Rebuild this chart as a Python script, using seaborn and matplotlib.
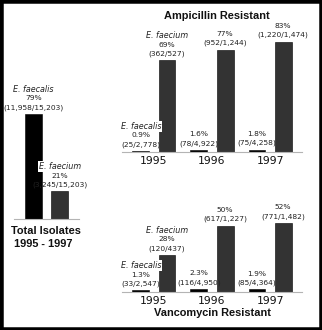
import matplotlib
matplotlib.use("Agg")
import matplotlib.pyplot as plt
import matplotlib.patches as mpatches
import pandas as pd
import seaborn as sns

# ---- data -------------------------------------------------------------
years = ["1995", "1996", "1997"]
species = ["E. faecalis", "E. faecium"]

amp_faecalis_pct = [0.9, 1.6, 1.8]
amp_faecalis_n = ["25/2,778", "78/4,922", "75/4,258"]
amp_faecium_pct = [69, 77, 83]
amp_faecium_n = ["362/527", "952/1,244", "1,220/1,474"]

van_faecalis_pct = [1.3, 2.3, 1.9]
van_faecalis_n = ["33/2,547", "116/4,950", "85/4,364"]
van_faecium_pct = [28, 50, 52]
van_faecium_n = ["120/437", "617/1,227", "771/1,482"]

total_pct = [79, 21]
total_n = ["11,958/15,203", "3,245/15,203"]

# ---- style ------------------------------------------------------------
sns.set_theme(style="white")
plt.rcParams["font.family"] = ["DejaVu Sans"]

W, H = 322, 330
fig = plt.figure(figsize=(W / 100, H / 100), dpi=100)
fig.patch.set_facecolor("white")

palette = {"E. faecalis": "#000000", "E. faecium": "#333333"}
LABEL_FS = 5.4
PX = 72 / 100  # points per pixel


def add_px_axes(left, top, right, bottom):
    return fig.add_axes([left / W, 1 - bottom / H, (right - left) / W, (bottom - top) / H])


def style_axes(ax, xlim):
    ax.set_xlim(*xlim)
    ax.set_ylim(0, 100)
    ax.set_facecolor("none")
    for s in ("left", "right", "top"):
        ax.spines[s].set_visible(False)
    ax.spines["bottom"].set_color("#b4b4b4")
    ax.spines["bottom"].set_linewidth(0.8)
    ax.set_yticks([])
    ax.set_xlabel("")
    ax.set_ylabel("")


def count_fmt(n):
    return f"({n})"


def label_bar(ax, bar, pct, count, name=None):
    cx = bar.get_x() + bar.get_width() / 2
    top = bar.get_height()
    lines = [(count_fmt(count), 6.5), (f"{pct:g}%", 15.5)]
    for txt, off in lines:
        ax.annotate(txt, xy=(cx, top), xytext=(0, off * PX), textcoords="offset points",
                    ha="center", va="center", fontsize=LABEL_FS, color="#222222")
    if name is not None:
        ax.annotate(name, xy=(cx, top), xytext=(0, 24.5 * PX), textcoords="offset points",
                    ha="center", va="center", fontsize=LABEL_FS + 0.4, style="italic",
                    color="#222222",
                    bbox=dict(boxstyle="square,pad=0.15", fc="white", ec="none"))


def panel(ax, fa_pct, fa_n, fm_pct, fm_n):
    df = pd.DataFrame({
        "year": years * 2,
        "species": [species[0]] * 3 + [species[1]] * 3,
        "pct": fa_pct + fm_pct,
    })
    sns.barplot(data=df, x="year", y="pct", hue="species", order=years,
                hue_order=species, palette=palette, width=0.9, gap=0.35,
                legend=False, ax=ax, saturation=1, linewidth=0.4, edgecolor="black")
    style_axes(ax, (-0.55, 2.55))
    ax.tick_params(axis="x", length=0, pad=3, labelsize=7.8, labelcolor="#111111")
    for i, bar in enumerate(ax.containers[0]):
        label_bar(ax, bar, fa_pct[i], fa_n[i], species[0] if i == 0 else None)
    for i, bar in enumerate(ax.containers[1]):
        label_bar(ax, bar, fm_pct[i], fm_n[i], species[1] if i == 0 else None)


# ---- ampicillin resistant ---------------------------------------------
ax_amp = add_px_axes(122, 19, 302, 152)
panel(ax_amp, amp_faecalis_pct, amp_faecalis_n, amp_faecium_pct, amp_faecium_n)

# ---- vancomycin resistant ---------------------------------------------
ax_van = add_px_axes(122, 159, 302, 292)
panel(ax_van, van_faecalis_pct, van_faecalis_n, van_faecium_pct, van_faecium_n)

# ---- total isolates ---------------------------------------------------
ax_tot = add_px_axes(14, 86, 79, 219)
df_tot = pd.DataFrame({"group": ["Total"] * 2, "species": species, "pct": total_pct})
sns.barplot(data=df_tot, x="group", y="pct", hue="species", hue_order=species,
            palette=palette, width=0.9, gap=0.35, legend=False, ax=ax_tot,
            saturation=1, linewidth=0.4, edgecolor="black")
style_axes(ax_tot, (-0.55, 0.55))
ax_tot.set_xticks([])
for i, cont in enumerate(ax_tot.containers):
    label_bar(ax_tot, cont[0], total_pct[i], total_n[i], species[i])

# ---- titles -----------------------------------------------------------
title_kw = dict(ha="center", va="center", fontweight="bold",
                family=["Liberation Sans", "DejaVu Sans"], color="#111111")
fig.text(217 / W, 1 - 16 / H, "Ampicillin Resistant", fontsize=7.9, **title_kw)
fig.text(212 / W, 1 - 313 / H, "Vancomycin Resistant", fontsize=7.9, **title_kw)
fig.text(46 / W, 1 - 231 / H, "Total Isolates", fontsize=7.9, **title_kw)
fig.text(43 / W, 1 - 244 / H, "1995 - 1997", fontsize=7.9, **title_kw)

# ---- frame ------------------------------------------------------------
fig.add_artist(mpatches.Rectangle((0, 0), 1, 1, transform=fig.transFigure,
                                  fill=False, ec="black", lw=6.5 * PX))

fig.savefig("out.png", dpi=100, facecolor="white")
